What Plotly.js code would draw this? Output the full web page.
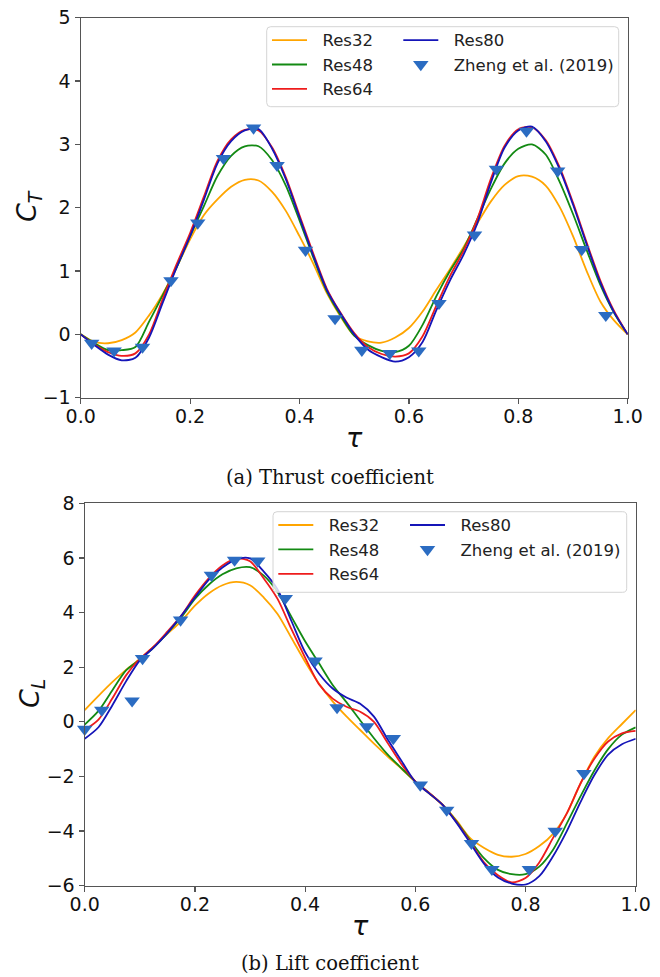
<!DOCTYPE html>
<html>
<head>
<meta charset="utf-8">
<script src="https://cdn.plot.ly/plotly-3.0.1.min.js"></script>
<style>html,body{margin:0;padding:0;background:#fff}#chart{width:660px;height:977px}</style>
</head>
<body>
<div id="chart"></div>
<script>
// ---------- data ----------
const tau = [0, 0.025, 0.05, 0.075, 0.1, 0.125, 0.15, 0.175, 0.2, 0.225, 0.25, 0.275, 0.3, 0.325, 0.35, 0.375, 0.4, 0.425, 0.45, 0.475, 0.5,
             0.525, 0.55, 0.575, 0.6, 0.625, 0.65, 0.675, 0.7, 0.725, 0.75, 0.775, 0.8, 0.825, 0.85, 0.875, 0.9, 0.925, 0.95, 0.975, 1.0];

// Thrust coefficient C_T
const ctRes32 = [0, -0.12, -0.14, -0.09, 0.03, 0.30, 0.64, 1.05, 1.50, 1.88, 2.13, 2.33, 2.44, 2.43, 2.25, 1.95, 1.55, 1.12, 0.65, 0.28, -0.02,
                 -0.11, -0.13, -0.05, 0.10, 0.36, 0.70, 1.03, 1.38, 1.75, 2.10, 2.36, 2.50, 2.49, 2.35, 2.02, 1.55, 1.00, 0.52, 0.22, 0.0];
const ctRes48 = [0, -0.14, -0.25, -0.25, -0.20, 0.20, 0.62, 1.05, 1.55, 2.02, 2.50, 2.82, 2.97, 2.97, 2.75, 2.35, 1.80, 1.22, 0.68, 0.30, -0.02,
                 -0.17, -0.26, -0.28, -0.18, 0.15, 0.60, 1.00, 1.35, 1.82, 2.30, 2.70, 2.93, 3.00, 2.84, 2.42, 1.90, 1.33, 0.78, 0.34, 0.0];
const ctRes64 = [0, -0.16, -0.28, -0.34, -0.30, 0.00, 0.56, 1.10, 1.60, 2.17, 2.74, 3.08, 3.23, 3.22, 2.95, 2.48, 1.88, 1.28, 0.72, 0.34, 0.02,
                 -0.20, -0.31, -0.35, -0.30, -0.03, 0.45, 0.92, 1.32, 1.82, 2.46, 2.98, 3.24, 3.27, 3.07, 2.65, 2.08, 1.45, 0.85, 0.37, 0.0];
const ctRes80 = [0, -0.17, -0.32, -0.41, -0.37, -0.05, 0.50, 1.05, 1.55, 2.12, 2.70, 3.05, 3.22, 3.24, 2.93, 2.45, 1.85, 1.25, 0.70, 0.33, 0.0,
                 -0.24, -0.36, -0.43, -0.36, -0.12, 0.38, 0.85, 1.26, 1.75, 2.40, 2.95, 3.22, 3.28, 3.05, 2.62, 2.05, 1.42, 0.82, 0.35, 0.0];
const ctZhengTau = [0.020, 0.061, 0.113, 0.165, 0.214, 0.261, 0.316, 0.359, 0.411, 0.465, 0.514, 0.565, 0.618, 0.655, 0.720, 0.760, 0.815, 0.872, 0.916, 0.960];
const ctZheng    = [-0.14, -0.26, -0.20, 0.85, 1.76, 2.78, 3.26, 2.67, 1.33, 0.25, -0.25, -0.30, -0.26, 0.49, 1.57, 2.61, 3.21, 2.58, 1.34, 0.30];

// Lift coefficient C_L
const clRes32 = [0.43, 0.95, 1.45, 1.90, 2.30, 2.75, 3.22, 3.68, 4.25, 4.70, 5.00, 5.12, 5.00, 4.55, 3.95, 3.08, 2.20, 1.40, 0.75, 0.20, -0.30,
                 -0.80, -1.27, -1.72, -2.20, -2.62, -3.05, -3.62, -4.27, -4.62, -4.87, -4.94, -4.84, -4.55, -4.10, -3.35, -2.25, -1.28, -0.60, -0.08, 0.43];
const clRes48 = [-0.10, 0.40, 1.15, 1.88, 2.28, 2.72, 3.25, 3.82, 4.50, 5.02, 5.40, 5.62, 5.66, 5.35, 4.75, 3.85, 2.95, 2.15, 1.35, 0.72, 0.05,
                 -0.60, -1.20, -1.70, -2.18, -2.60, -3.05, -3.65, -4.35, -5.00, -5.42, -5.58, -5.58, -5.30, -4.68, -3.72, -2.72, -1.78, -1.00, -0.47, -0.20];
const clRes64 = [-0.30, 0.08, 0.85, 1.70, 2.30, 2.75, 3.30, 3.88, 4.62, 5.25, 5.72, 5.98, 5.88, 5.25, 4.50, 3.40, 2.35, 1.38, 0.85, 0.55, 0.37,
                 0.00, -0.78, -1.55, -2.18, -2.60, -3.05, -3.68, -4.40, -5.15, -5.62, -5.88, -5.72, -5.15, -4.25, -3.35, -2.25, -1.35, -0.72, -0.42, -0.33];
const clRes80 = [-0.62, -0.20, 0.60, 1.48, 2.25, 2.72, 3.25, 3.88, 4.55, 5.20, 5.65, 5.95, 5.98, 5.50, 4.85, 3.70, 2.55, 1.77, 1.22, 0.89, 0.66,
                 0.19, -0.65, -1.43, -2.20, -2.62, -3.05, -3.70, -4.45, -5.20, -5.70, -5.92, -5.96, -5.65, -4.92, -4.00, -2.93, -1.95, -1.20, -0.82, -0.62];
const clZhengTau = [0.0, 0.031, 0.086, 0.105, 0.174, 0.230, 0.272, 0.314, 0.364, 0.418, 0.458, 0.512, 0.560, 0.609, 0.657, 0.702, 0.739, 0.807, 0.854, 0.906];
const clZheng    = [-0.27, 0.43, 0.77, 2.32, 3.73, 5.37, 5.92, 5.89, 4.52, 2.23, 0.52, -0.18, -0.61, -2.31, -3.23, -4.45, -5.40, -5.40, -4.00, -1.89];

const seriesNames = ['Res32', 'Res48', 'Res64', 'Res80'];
const zhengName = 'Zheng et al. (2019)';
const xTicks = [0, 0.2, 0.4, 0.6, 0.8, 1.0];
const captions = ['(a) Thrust coefficient', '(b) Lift coefficient'];

// ---------- styling ----------
const W = 660, H = 977;
const fx = p => p / W;          // pixel -> paper x
const fy = p => 1 - p / H;      // pixel -> paper y
const colors = ['#ffa500', '#138a13', '#ee1c1c', '#1515b8'];
const markerColor = '#2b6cc2';
const NB = '\u00a0\u00a0';

const boxTop = {x0: 80.7, x1: 627.7, y0: 17.7, y1: 397.7};
const boxBot = {x0: 84.7, x1: 635.7, y0: 503.3, y1: 885.7};

function lineTrace(y, i, xa, ya, leg) {
  return {x: tau, y: y, type: 'scatter', mode: 'lines', name: NB + seriesNames[i],
    line: {color: colors[i], width: 1.8, shape: 'spline', smoothing: 0.8},
    xaxis: xa, yaxis: ya, legend: leg, hoverinfo: 'skip'};
}
function markerTrace(x, y, xa, ya, leg) {
  return {x: x, y: y, type: 'scatter', mode: 'markers', name: NB + zhengName,
    marker: {symbol: 'triangle-down', size: 13.5, color: markerColor},
    cliponaxis: false, xaxis: xa, yaxis: ya, legend: leg, hoverinfo: 'skip'};
}

const ctSeries = [ctRes32, ctRes48, ctRes64, ctRes80];
const clSeries = [clRes32, clRes48, clRes64, clRes80];
const data = [];
ctSeries.forEach((s, i) => data.push(lineTrace(s, i, 'x', 'y', i < 3 ? 'legend' : 'legend2')));
data.push(markerTrace(ctZhengTau, ctZheng, 'x', 'y', 'legend2'));
clSeries.forEach((s, i) => data.push(lineTrace(s, i, 'x2', 'y2', i < 3 ? 'legend3' : 'legend4')));
data.push(markerTrace(clZhengTau, clZheng, 'x2', 'y2', 'legend4'));

const axisBase = {
  showline: true, linecolor: '#555', linewidth: 1.2, mirror: true,
  ticks: 'outside', ticklen: 5, tickwidth: 1.2, tickcolor: '#555',
  showgrid: false, zeroline: false, fixedrange: true,
  tickfont: {family: 'DejaVu Sans', size: 19, color: '#111'}
};
const xAxis = (dom, anchor) => Object.assign({}, axisBase, {
  domain: dom, anchor: anchor, range: [0, 1], tickvals: xTicks, tickformat: '.1f', ticklabelstandoff: -4});
const yAxis = (dom, anchor, range, dtick) => Object.assign({}, axisBase, {
  domain: dom, anchor: anchor, range: range, tick0: 0, dtick: dtick});

function legendAt(xpx, ypx) {
  return {x: fx(xpx), y: fy(ypx), xanchor: 'left', yanchor: 'top', orientation: 'v',
    bgcolor: 'rgba(0,0,0,0)', borderwidth: 0, itemwidth: 35,
    font: {family: 'DejaVu Sans', size: 16.5, color: '#222'}, itemclick: false, itemdoubleclick: false};
}
function roundBox(x0, y0, x1, y1, r) {
  const X = v => fx(v).toFixed(5), Y = v => fy(v).toFixed(5);
  const p = 'M' + X(x0 + r) + ',' + Y(y0) + ' L' + X(x1 - r) + ',' + Y(y0) +
    ' Q' + X(x1) + ',' + Y(y0) + ' ' + X(x1) + ',' + Y(y0 + r) +
    ' L' + X(x1) + ',' + Y(y1 - r) + ' Q' + X(x1) + ',' + Y(y1) + ' ' + X(x1 - r) + ',' + Y(y1) +
    ' L' + X(x0 + r) + ',' + Y(y1) + ' Q' + X(x0) + ',' + Y(y1) + ' ' + X(x0) + ',' + Y(y1 - r) +
    ' L' + X(x0) + ',' + Y(y0 + r) + ' Q' + X(x0) + ',' + Y(y0) + ' ' + X(x0 + r) + ',' + Y(y0) + ' Z';
  return {type: 'path', xref: 'paper', yref: 'paper', path: p, layer: 'above',
    fillcolor: 'rgba(255,255,255,0.8)', line: {color: '#d4d4d4', width: 1}};
}
function ann(text, xpx, ypx, size, family, angle) {
  return {text: text, xref: 'paper', yref: 'paper', x: fx(xpx), y: fy(ypx),
    xanchor: 'center', yanchor: 'middle', showarrow: false, textangle: angle || 0,
    font: {family: family, size: size, color: '#111'}};
}

const layout = {
  width: W, height: H, margin: {l: 0, r: 0, t: 0, b: 0},
  paper_bgcolor: '#fff', plot_bgcolor: '#fff',
  xaxis: xAxis([fx(boxTop.x0), fx(boxTop.x1)], 'y'),
  yaxis: yAxis([fy(boxTop.y1), fy(boxTop.y0)], 'x', [-1, 5], 1),
  xaxis2: xAxis([fx(boxBot.x0), fx(boxBot.x1)], 'y2'),
  yaxis2: yAxis([fy(boxBot.y1), fy(boxBot.y0)], 'x2', [-6, 8], 2),
  legend: legendAt(267, 22.8),
  legend2: legendAt(398.3, 22.8),
  legend3: legendAt(273.3, 507.8),
  legend4: legendAt(405, 507.8),
  shapes: [roundBox(266.7, 26.7, 618.7, 106.7, 4), roundBox(273, 511.7, 626.7, 592.3, 4)],
  annotations: [
    ann('<i>τ</i>', 354, 437, 27, 'DejaVu Sans'),
    ann('<i>τ</i>', 360, 925, 27, 'DejaVu Sans'),
    ann('<i>C</i><sub><i>T</i></sub>', 28, 206, 27, 'DejaVu Sans', -90),
    ann('<i>C</i><sub><i>L</i></sub>', 31, 693, 27, 'DejaVu Sans', -90),
    ann(captions[0], 330, 477, 19.5, 'DejaVu Serif'),
    ann(captions[1], 330, 963, 19.5, 'DejaVu Serif')
  ],
  showlegend: true
};

Plotly.newPlot('chart', data, layout, {staticPlot: true, displayModeBar: false});
</script>
</body>
</html>
